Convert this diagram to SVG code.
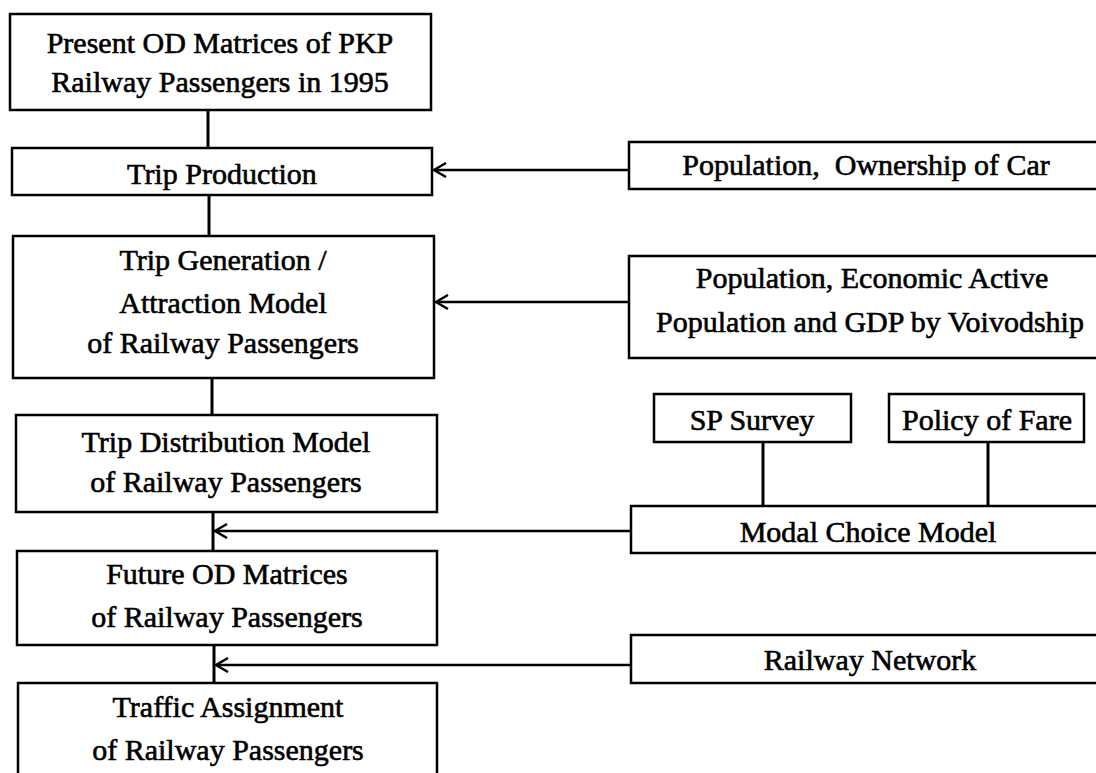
<svg xmlns="http://www.w3.org/2000/svg" width="1096" height="773" viewBox="0 0 1096 773">
<style>
.box{fill:#fff;stroke:#000;stroke-width:2.5}
.t{font-family:"Liberation Serif","Times New Roman",serif;font-size:30px;fill:#000;text-anchor:middle;stroke:#000;stroke-width:0.6}
.c{fill:none;stroke:#000;stroke-width:3}
.a{fill:none;stroke:#000;stroke-width:2.5}
</style>
<defs>
<marker id="arr" markerWidth="16" markerHeight="16" refX="14" refY="8" orient="auto" markerUnits="userSpaceOnUse">
<path d="M2,1 L14,8 L2,15" fill="none" stroke="#000" stroke-width="2.4"/>
</marker>
</defs>
<rect width="1096" height="773" fill="#fff"/>
<g id="connectors">
<line class="c" x1="208" y1="110" x2="208" y2="148"/>
<line class="c" x1="209" y1="195" x2="209" y2="236"/>
<line class="c" x1="212" y1="378" x2="212" y2="415"/>
<line class="c" x1="213" y1="512" x2="213" y2="551"/>
<line class="c" x1="214" y1="645" x2="214" y2="683"/>
<line class="c" x1="763" y1="442" x2="763" y2="506"/>
<line class="c" x1="988" y1="442" x2="988" y2="506"/>
<path class="a" d="M629,170 L434,170" marker-end="url(#arr)"/>
<path class="a" d="M629,302 L436,302" marker-end="url(#arr)"/>
<path class="a" d="M631,531 L215,531" marker-end="url(#arr)"/>
<path class="a" d="M631,665 L216,665" marker-end="url(#arr)"/>
</g>
<g id="n1"><rect class="box" x="10" y="14" width="421" height="96"/>
<text class="t" x="220" y="53">Present OD Matrices of PKP</text>
<text class="t" x="220" y="92">Railway Passengers in 1995</text></g>
<g id="n2"><rect class="box" x="12" y="148" width="420" height="47"/>
<text class="t" x="222" y="184">Trip Production</text></g>
<g id="n3"><rect class="box" x="13" y="236" width="421" height="142"/>
<text class="t" x="223" y="270">Trip Generation /</text>
<text class="t" x="223" y="313">Attraction Model</text>
<text class="t" x="223" y="353">of Railway Passengers</text></g>
<g id="n4"><rect class="box" x="16" y="415" width="421" height="97"/>
<text class="t" x="226" y="452">Trip Distribution Model</text>
<text class="t" x="226" y="492">of Railway Passengers</text></g>
<g id="n5"><rect class="box" x="17" y="551" width="420" height="94"/>
<text class="t" x="227" y="584">Future OD Matrices</text>
<text class="t" x="227" y="627">of Railway Passengers</text></g>
<g id="n6"><rect class="box" x="18" y="683" width="419" height="100"/>
<text class="t" x="228" y="717">Traffic Assignment</text>
<text class="t" x="228" y="760">of Railway Passengers</text></g>
<g id="r1"><rect class="box" x="629" y="142" width="480" height="47"/>
<text class="t" x="866" y="175" xml:space="preserve">Population,  Ownership of Car</text></g>
<g id="r2"><rect class="box" x="629" y="256" width="480" height="102"/>
<text class="t" x="872" y="288">Population, Economic Active</text>
<text class="t" x="870" y="332">Population and GDP by Voivodship</text></g>
<g id="r3"><rect class="box" x="654" y="394" width="197" height="48"/>
<text class="t" x="752" y="430">SP Survey</text></g>
<g id="r4"><rect class="box" x="889" y="394" width="195" height="48"/>
<text class="t" x="987" y="430">Policy of Fare</text></g>
<g id="r5"><rect class="box" x="631" y="506" width="480" height="47"/>
<text class="t" x="868" y="542">Modal Choice Model</text></g>
<g id="r6"><rect class="box" x="631" y="635" width="480" height="48"/>
<text class="t" x="870" y="670">Railway Network</text></g>
</svg>
